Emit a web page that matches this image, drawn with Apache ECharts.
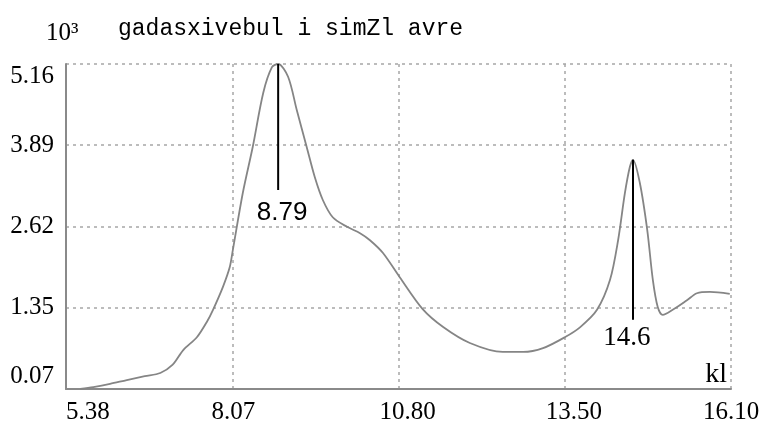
<!DOCTYPE html>
<html>
<head>
<meta charset="utf-8">
<script src="https://cdn.jsdelivr.net/npm/echarts@6/dist/echarts.min.js"></script>
<style>
html,body{margin:0;padding:0;background:#fff;}
#chart{width:770px;height:440px;}
</style>
</head>
<body>
<div id="chart"></div>
<script>
// Data (values in 10^3)
const curveX = [5.61, 5.82, 6.09, 6.36, 6.65, 6.90, 7.10, 7.27, 7.49, 7.65, 7.75, 7.91, 8.02, 8.07,
  8.23, 8.39, 8.56, 8.70, 8.80, 8.96, 9.10, 9.26, 9.39, 9.52, 9.68, 9.91, 10.12, 10.28, 10.49,
  10.76, 11.13, 11.46, 11.89, 12.42, 12.75, 13.07, 13.42, 13.67, 13.94, 14.15, 14.28, 14.39,
  14.47, 14.52, 14.63, 14.75, 14.84, 14.92, 15.00, 15.16, 15.39, 15.55, 15.76, 16.08];
const curveY = [0.07, 0.10, 0.15, 0.21, 0.27, 0.32, 0.45, 0.68, 0.88, 1.12, 1.31, 1.67, 1.98, 2.25,
  3.14, 3.86, 4.71, 5.11, 5.16, 4.96, 4.44, 3.86, 3.39, 3.03, 2.76, 2.61, 2.51, 2.40, 2.20,
  1.82, 1.32, 1.04, 0.79, 0.65, 0.65, 0.71, 0.88, 1.04, 1.31, 1.78, 2.40, 3.14,
  3.55, 3.66, 3.30, 2.56, 1.78, 1.35, 1.23, 1.31, 1.46, 1.57, 1.59, 1.56];

const xTickValues = [5.38, 8.06, 10.74, 13.42, 16.10];
const xTickLabels = ['5.38', '8.07', '10.80', '13.50', '16.10'];
const yTickValues = [0.07, 1.3425, 2.615, 3.8875, 5.16];
const yTickLabels = ['0.07', '1.35', '2.62', '3.89', '5.16'];

const peakX = [8.80, 14.52];
const peakY = [5.16, 3.66];
const peakLabels = ['8.79', '14.6'];

const titleText = 'gadasxivebul i simZl avre';
const unitText = '10\u00B3';
const xName = 'kl';

function nearestIndex(arr, v) {
  let best = 0;
  for (let i = 1; i < arr.length; i++) {
    if (Math.abs(arr[i] - v) < Math.abs(arr[best] - v)) best = i;
  }
  return best;
}

const chart = echarts.init(document.getElementById('chart'), null, {renderer: 'canvas'});

const gridColor = '#a6a6a6';
const axisColor = '#8a8a8a';
const tickFont = 'Liberation Serif';
const tickSize = 25;

const peakStyles = [
  {len: 126, font: 'Liberation Sans', size: 26, dist: 10, off: [4, 0]},
  {len: 160, font: 'Liberation Serif', size: 27, dist: 5, off: [-6, 0]}
];

const option = {
  animation: false,
  backgroundColor: '#ffffff',
  grid: {left: 66, right: 39, top: 64, bottom: 51, containLabel: false},
  xAxis: {
    type: 'value',
    min: xTickValues[0],
    max: xTickValues[xTickValues.length - 1],
    axisLine: {show: true, lineStyle: {color: axisColor, width: 2}},
    axisTick: {show: false, customValues: xTickValues},
    splitLine: {show: true, lineStyle: {color: gridColor, width: 1.5, type: [3, 4]}},
    axisLabel: {
      customValues: xTickValues,
      color: '#000',
      fontFamily: tickFont,
      fontSize: tickSize,
      margin: 11,
      alignMinLabel: 'left',
      formatter: function (v) {
        const i = nearestIndex(xTickValues, v);
        if (i === 0 || i === xTickValues.length - 1) return xTickLabels[i];
        if (i === 1) return '{a|' + xTickLabels[i] + '}';
        return '{s|' + xTickLabels[i] + '}';
      },
      rich: {
        a: {fontFamily: tickFont, fontSize: tickSize, color: '#000', padding: [0, 0, 0, 2]},
        s: {fontFamily: tickFont, fontSize: tickSize, color: '#000', padding: [0, 0, 0, 18]}
      }
    }
  },
  yAxis: {
    type: 'value',
    min: yTickValues[0],
    max: yTickValues[yTickValues.length - 1],
    axisLine: {show: true, lineStyle: {color: axisColor, width: 2}},
    axisTick: {show: false, customValues: yTickValues},
    splitLine: {show: true, lineStyle: {color: gridColor, width: 1.5, type: [3, 4]}},
    axisLabel: {
      customValues: yTickValues,
      color: '#000',
      fontFamily: tickFont,
      fontSize: tickSize,
      margin: 12,
      verticalAlignMaxLabel: 'top',
      verticalAlignMinLabel: 'bottom',
      formatter: function (v) {
        return yTickLabels[nearestIndex(yTickValues, v)];
      }
    }
  },
  graphic: [
    {type: 'text', left: 118, top: 17, style: {text: titleText, fontFamily: 'Liberation Mono', fontSize: 23, fill: '#000'}},
    {type: 'text', left: 46, top: 21, style: {text: unitText, fontFamily: 'Liberation Serif', fontSize: 25, fill: '#000'}},
    {type: 'text', right: 43, top: 361, style: {text: xName, fontFamily: 'Liberation Serif', fontSize: 28, fill: '#000'}}
  ],
  series: [{
    type: 'line',
    data: curveX.map((x, i) => [x, curveY[i]]),
    showSymbol: false,
    symbol: 'none',
    smooth: 0.3,
    lineStyle: {color: '#858585', width: 1.8},
    markPoint: {
      symbol: 'rect',
      itemStyle: {color: '#000'},
      data: peakX.map((x, i) => ({
        coord: [x, peakY[i]],
        symbolSize: [2, peakStyles[i].len],
        symbolOffset: [0, '50%'],
        label: {
          show: true,
          position: 'bottom',
          distance: peakStyles[i].dist,
          offset: peakStyles[i].off,
          formatter: peakLabels[i],
          color: '#000',
          fontFamily: peakStyles[i].font,
          fontSize: peakStyles[i].size
        }
      }))
    }
  }]
};

chart.setOption(option);
</script>
</body>
</html>
